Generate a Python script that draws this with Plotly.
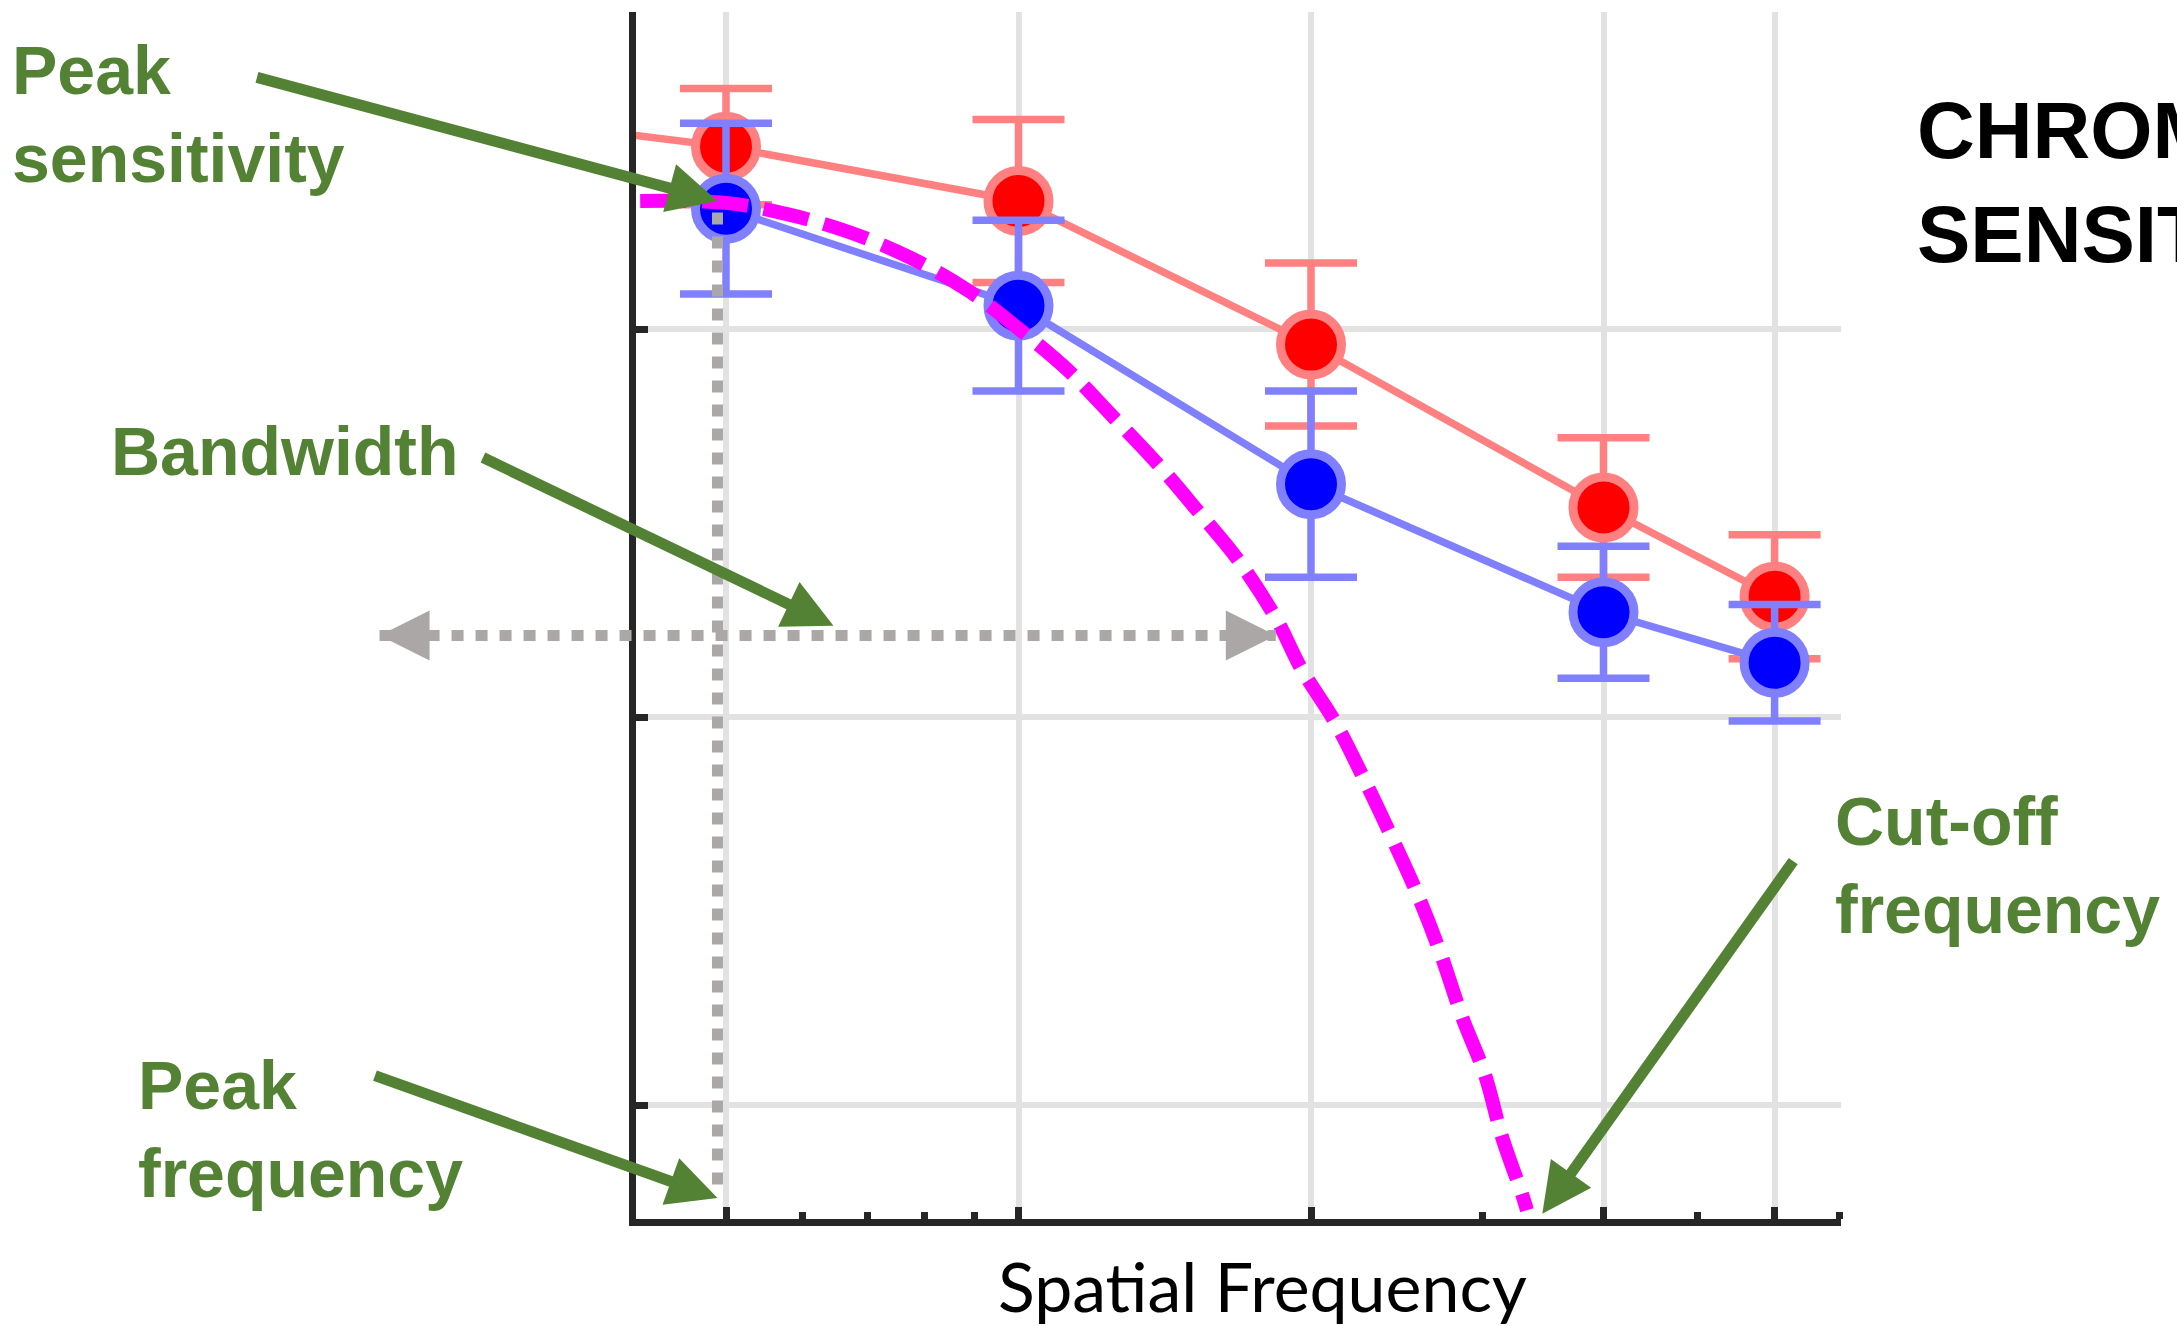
import math
import plotly.graph_objects as go

# ---- data -------------------------------------------------------------
freqs = [0.5, 1, 2, 4, 6]                       # spatial frequency (c/deg)
red_sens = [2.47, 2.33, 1.96, 1.54, 1.31]        # log sensitivity, red condition
red_err = [0.15, 0.21, 0.21, 0.18, 0.16]
blue_sens = [2.31, 2.06, 1.60, 1.27, 1.14]       # log sensitivity, blue condition
blue_err = [0.22, 0.22, 0.24, 0.17, 0.15]

# red curve continues in from lower frequencies (left edge of the axes)
red_lead_freq = [0.40, 0.5]
red_lead_sens = [2.50, 2.47]

# fitted sensitivity function (dashed)
model_freq = [0.408, 0.5, 0.578, 0.669, 0.775, 0.889, 1.001, 1.124, 1.254,
              1.385, 1.527, 1.686, 1.845, 1.953, 2.117, 2.268, 2.429, 2.583,
              2.722, 2.861, 3.021, 3.145, 3.297, 3.337]
model_sens = [2.330, 2.325, 2.296, 2.250, 2.183, 2.098, 2.000, 1.894, 1.771,
              1.657, 1.533, 1.402, 1.250, 1.126, 0.987, 0.840, 0.683, 0.534,
              0.387, 0.227, 0.077, -0.082, -0.229, -0.271]

peak_freq = 0.49
peak_sens = 2.30
peak_line_bottom = -0.23
bw_low, bw_high, bw_level = 0.22, 1.84, 1.21
cutoff_freq = 3.46

x_major = [0.5, 1, 2, 4, 6]
x_minor = [0.6, 0.7, 0.8, 0.9, 3, 5, 7]
y_major = [0, 1, 2]

# ---- page geometry ----------------------------------------------------
W, H = 2177, 1326
OCT_PX = 292.5            # pixels per octave on the frequency axis
DEC_PX = 388.0            # pixels per log unit on the sensitivity axis
X_REF_PX, Y_REF_PX = 726.0, 1105.0   # pixel of f=0.5 and of log S=0

def lx_at(px):
    return math.log10(0.5) + (px - X_REF_PX) * math.log10(2) / OCT_PX

def ly_at(py):
    return (Y_REF_PX - py) / DEC_PX

plot_l, plot_r, plot_t, plot_b = 636.0, 1841.0, 12.0, 1218.5

GREEN = "#548235"
GRAY = "#ABA7A7"
AXIS = "#262626"
GRID = "#E2E2E2"

fig = go.Figure()

# red series
fig.add_trace(go.Scatter(
    x=red_lead_freq, y=red_lead_sens, mode="lines",
    line=dict(color="#FF8080", width=7.5), hoverinfo="skip"))
fig.add_trace(go.Scatter(
    x=freqs, y=red_sens, mode="lines+markers",
    line=dict(color="#FF8080", width=7.5),
    marker=dict(size=61, color="#FF0000", line=dict(color="#FF8080", width=9)),
    error_y=dict(type="data", array=red_err, color="#FF8080", thickness=7.5, width=46)))
# blue series
fig.add_trace(go.Scatter(
    x=freqs, y=blue_sens, mode="lines+markers",
    line=dict(color="#8080FF", width=7.5),
    marker=dict(size=61, color="#0000FF", line=dict(color="#8080FF", width=9)),
    error_y=dict(type="data", array=blue_err, color="#8080FF", thickness=7.5, width=46)))
# model curve
fig.add_trace(go.Scatter(
    x=model_freq, y=model_sens, mode="lines",
    line=dict(color="#FF00FF", width=14, dash="46px,16px", shape="spline")))

# guide lines on a full-page overlay with the same scales
fig.add_trace(go.Scatter(
    x=[peak_freq, peak_freq], y=[peak_sens, peak_line_bottom], mode="lines",
    xaxis="x2", yaxis="y2",
    line=dict(color=GRAY, width=11, dash="12px,12px")))
fig.add_trace(go.Scatter(
    x=[bw_low, bw_high], y=[bw_level, bw_level], mode="lines",
    xaxis="x2", yaxis="y2",
    line=dict(color=GRAY, width=11, dash="12px,12px")))

# axes
x_rng = [lx_at(plot_l), lx_at(plot_r)]
y_rng = [ly_at(plot_b), ly_at(plot_t)]
x2_rng = [lx_at(0), lx_at(W)]
y2_rng = [ly_at(H), ly_at(0)]

fig.update_layout(
    width=W, height=H,
    margin=dict(l=0, r=0, t=0, b=0, pad=0),
    paper_bgcolor="white", plot_bgcolor="rgba(0,0,0,0)",
    showlegend=False,
    xaxis=dict(
        type="log", range=x_rng, domain=[plot_l / W, plot_r / W],
        anchor="y", showline=True, linewidth=7, linecolor=AXIS,
        tickmode="array", tickvals=x_major, ticks="inside", ticklen=12,
        tickwidth=7, tickcolor=AXIS, showticklabels=False,
        showgrid=True, gridcolor=GRID, gridwidth=6, zeroline=False,
        minor=dict(tickmode="array", tickvals=x_minor, ticks="inside",
                   ticklen=7, tickwidth=7, tickcolor=AXIS, showgrid=False),
    ),
    yaxis=dict(
        range=y_rng, domain=[1 - plot_b / H, 1 - plot_t / H], anchor="x",
        showline=True, linewidth=7, linecolor=AXIS,
        tickmode="array", tickvals=y_major, ticks="inside", ticklen=12,
        tickwidth=7, tickcolor=AXIS, showticklabels=False,
        showgrid=True, gridcolor=GRID, gridwidth=6, zeroline=False,
    ),
    xaxis2=dict(type="log", range=x2_rng, domain=[0, 1], anchor="y2",
                visible=False, fixedrange=True),
    yaxis2=dict(range=y2_rng, domain=[0, 1], anchor="x2",
                visible=False, fixedrange=True),
)

annotations = []

# arrowheads of the bandwidth marker
for xv, off in [(bw_low, 36), (bw_high, -36)]:
    annotations.append(dict(
        x=math.log10(xv), y=bw_level, xref="x2", yref="y2",
        ax=off, ay=0, text="", showarrow=True, arrowhead=2,
        arrowsize=1.0, arrowwidth=10, arrowcolor=GRAY, standoff=0))

# green pointer arrows
pointers = [
    (peak_freq, 2.33, -462, -124),
    (0.645, 1.235, -352, -169),
    (peak_freq, -0.24, -344, -123),
    (cutoff_freq, -0.28, 252, -354),
]
for xv, yv, ax, ay in pointers:
    annotations.append(dict(
        x=math.log10(xv), y=yv, xref="x2", yref="y2",
        ax=ax, ay=ay, text="", showarrow=True, arrowhead=2,
        arrowsize=0.9, arrowwidth=11, arrowcolor=GREEN, standoff=0))

def label(text, left_px, top_px, size, color, family="Liberation Sans"):
    return dict(
        x=left_px / W, y=1 - top_px / H, xref="paper", yref="paper",
        xanchor="left", yanchor="top", align="left", showarrow=False,
        text=text, font=dict(family=family, size=size, color=color))

annotations += [
    label("<b>Peak<br>sensitivity</b>", 10, 29.5, 68, GREEN),
    label("<b>Bandwidth</b>", 109, 410.5, 68, GREEN),
    label("<b>Peak<br>frequency</b>", 136, 1044.5, 68, GREEN),
    label("<b>Cut-off<br>frequency</b>", 1833, 780.5, 68, GREEN),
    label("<b>CHROMATIC<br>SENSITIVITY</b>", 1915, 83.6, 80, "#000000"),
    dict(x=1262 / W, y=1 - 1243 / H, xref="paper", yref="paper",
         xanchor="center", yanchor="top", showarrow=False,
         text="Spatial Frequency",
         font=dict(family="Lato", size=68, color="#000000")),
]
fig.update_layout(annotations=annotations)

fig.write_html("out.html")
